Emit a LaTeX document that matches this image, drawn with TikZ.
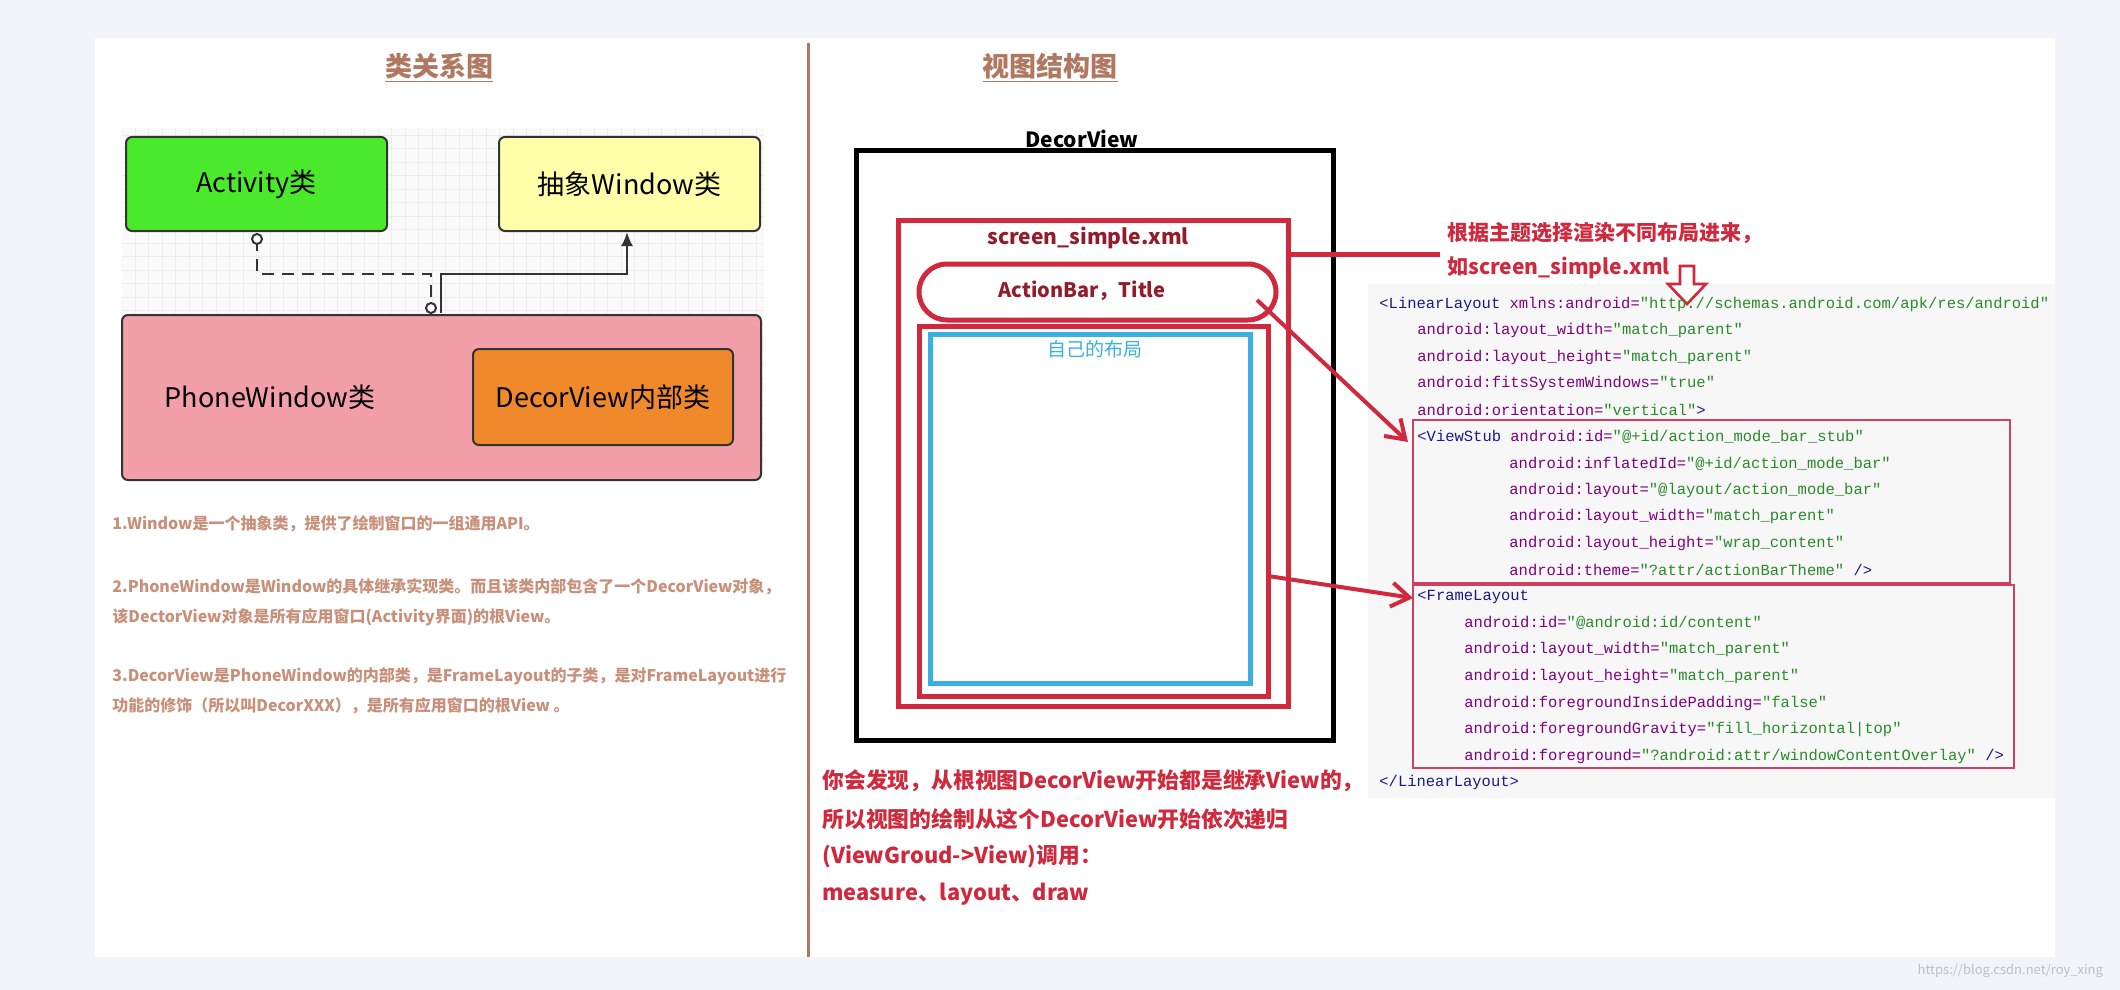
\documentclass[tikz,border=0pt]{standalone}
\usepackage{fontspec}
\setmainfont{Noto Sans CJK SC}
\setmonofont{Liberation Mono}
\usetikzlibrary{arrows.meta}
\definecolor{pagebg}{HTML}{F2F4FA}
\definecolor{brn}{HTML}{B07860}
\definecolor{ltxt}{HTML}{C8907A}
\definecolor{rd}{HTML}{D0283C}
\definecolor{cyanb}{HTML}{3AB0E0}
\definecolor{attr}{HTML}{800080}
\definecolor{val}{HTML}{2A8A2A}
\definecolor{tagc}{HTML}{1A1A8A}
\definecolor{codebox}{HTML}{D04060}
\newcommand\KA[2]{\textcolor{attr}{#1=}\textcolor{val}{"#2"}}
\newcommand\KT[1]{\textcolor{tagc}{#1}}
\begin{document}
\begin{tikzpicture}[x=0.5pt,y=-0.5pt,
  cls/.style={draw=black!80,line width=1pt,rounded corners=3pt,font=\fontsize{13.5}{16}\selectfont},
  ltext/.style={anchor=west,text=ltxt,font=\bfseries\fontsize{8}{10}\selectfont,inner sep=0},
  code/.style={anchor=west,inner sep=0,font=\ttfamily\fontsize{7.75}{9}\selectfont},
  rbox/.style={draw=rd,line width=2.5pt},
  rarrow/.style={draw=rd,line width=2pt,-{Straight Barb[length=9pt,width=12pt]}},
  rtext/.style={anchor=west,inner sep=0,text=rd,font=\bfseries\fontsize{10.9}{13}\selectfont}]
\useasboundingbox (0,0) rectangle (2120,990);
\fill[pagebg] (0,0) rectangle (2120,990);
\fill[white] (95,38) rectangle (2055,957);
\draw[brn,line width=1.5pt] (808,43) -- (808,957);
\node[text=brn,font=\bfseries\fontsize{13.5}{16}\selectfont] (t1) at (439,68) {\underline{类关系图}};
\node[text=brn,font=\bfseries\fontsize{13.5}{16}\selectfont] (t2) at (1050,68) {\underline{视图结构图}};
% grid
\fill[black!2] (122,128) rectangle (764,480);
\draw[black!7,line width=0.3pt,step=6.75pt] (122,128) grid (764,480);
% class boxes
\node[cls,fill={rgb,255:red,75;green,233;blue,43},minimum width=130.5pt,minimum height=47pt] (act) at (256.5,184) {Activity类};
\node[cls,fill={rgb,255:red,255;green,255;blue,170},minimum width=130.5pt,minimum height=47pt] (win) at (629.5,184) {抽象Window类};
\node[cls,fill={rgb,255:red,242;green,159;blue,169},minimum width=319.5pt,minimum height=82.5pt] (pw) at (441.5,397.5) {};
\node[font=\fontsize{13.5}{16}\selectfont] (pwt) at (270,397) {PhoneWindow类};
\node[cls,fill={rgb,255:red,240;green,137;blue,43},minimum width=130pt,minimum height=48pt] (dv) at (603,397) {DecorView内部类};
\coordinate (c1) at (257,239);
\coordinate (c2) at (431,308);
\draw[black!80,line width=1.2pt,dash pattern=on 6pt off 4pt] (c1) -- (257,274) -- (431,274) -- (c2);
\draw[black!80,line width=1pt,fill=white] (c1) circle (2.5pt);
\draw[black!80,line width=1pt,fill=white] (c2) circle (2.5pt);
\draw[black!80,line width=1.2pt,-{Latex[length=7pt,width=6pt]}] (441,313) -- (441,274) -- (627,274) -- (win.south -| 627,231);
% left text
\node[ltext] (p1) at (112,524) {1.Window是一个抽象类，提供了绘制窗口的一组通用API。};
\node[ltext] (p2) at (112,587) {2.PhoneWindow是Window的具体继承实现类。而且该类内部包含了一个DecorView对象，};
\node[ltext] (p3) at (112,617) {该DectorView对象是所有应用窗口(Activity界面)的根View。};
\node[ltext] (p4) at (112,676) {3.DecorView是PhoneWindow的内部类，是FrameLayout的子类，是对FrameLayout进行};
\node[ltext] (p5) at (112,706) {功能的修饰（所以叫DecorXXX），是所有应用窗口的根View 。};
% right: view structure
\node[font=\bfseries\fontsize{10.5}{12}\selectfont] (dvl) at (1082,139) {DecorView};
\draw[black,line width=2.5pt] (856,151) rectangle (1333,740);
\draw[rbox] (898,220) rectangle (1288,706);
\node[text=rd!70!black,font=\bfseries\fontsize{10.5}{12}\selectfont] (ssx) at (1088,238) {screen\_simple.xml};
\draw[rbox,rounded corners=14pt] (919,264) rectangle (1276,320);
\node[text=rd!70!black,font=\bfseries\fontsize{10}{12}\selectfont] (ab) at (1082,291) {ActionBar，Title};
\draw[rbox] (919,326) rectangle (1268,696);
\draw[cyanb,line width=2.5pt] (930,334) rectangle (1250,683);
\node[text=cyanb,font=\fontsize{9.5}{11}\selectfont] (own) at (1095,349) {自己的布局};
\coordinate (lnA) at (1288,254);
\coordinate (lnB) at (1440,254);
\draw[rd,line width=2.5pt] (lnA) -- (lnB);
\node[rtext,font=\bfseries\fontsize{10.5}{12}\selectfont] (r1) at (1447,233) {根据主题选择渲染不同布局进来，};
\node[rtext,font=\bfseries\fontsize{10.5}{12}\selectfont] (r2) at (1447,268) {如screen\_simple.xml};
% code
\fill[black!3] (1368,284) rectangle (2055,798);
\draw[rd,line width=1.3pt,fill=white,line join=miter] (1680,266) -- (1694,266) -- (1694,284) -- (1706,284) -- (1687,304) -- (1668,284) -- (1680,284) -- cycle;
\draw[codebox,line width=0.8pt] (1413,420) rectangle (2010,583);
\draw[codebox,line width=0.8pt] (1413,585) rectangle (2014,768);
\node[code] (l0) at (1379,304) {\KT{<LinearLayout} \KA{xmlns:android}{http://schemas.android.com/apk/res/android}};
\node[code] (l1) at (1417,330.6) {\KA{android:layout\_width}{match\_parent}};
\node[code] (l2) at (1417,357.2) {\KA{android:layout\_height}{match\_parent}};
\node[code] (l3) at (1417,383.8) {\KA{android:fitsSystemWindows}{true}};
\node[code] (l4) at (1417,410.4) {\KA{android:orientation}{vertical}\KT{>}};
\node[code] (l5) at (1417,437) {\KT{<ViewStub} \KA{android:id}{@+id/action\_mode\_bar\_stub}};
\node[code] (l6) at (1509,463.6) {\KA{android:inflatedId}{@+id/action\_mode\_bar}};
\node[code] (l7) at (1509,490.2) {\KA{android:layout}{@layout/action\_mode\_bar}};
\node[code] (l8) at (1509,516.8) {\KA{android:layout\_width}{match\_parent}};
\node[code] (l9) at (1509,543.4) {\KA{android:layout\_height}{wrap\_content}};
\node[code] (l10) at (1509,570) {\KA{android:theme}{?attr/actionBarTheme} \KT{/>}};
\node[code] (l11) at (1417,596.6) {\KT{<FrameLayout}};
\node[code] (l12) at (1464,623.2) {\KA{android:id}{@android:id/content}};
\node[code] (l13) at (1464,649.8) {\KA{android:layout\_width}{match\_parent}};
\node[code] (l14) at (1464,676.4) {\KA{android:layout\_height}{match\_parent}};
\node[code] (l15) at (1464,703) {\KA{android:foregroundInsidePadding}{false}};
\node[code] (l16) at (1464,729.6) {\KA{android:foregroundGravity}{fill\_horizontal|top}};
\node[code] (l17) at (1464,756.2) {\KA{android:foreground}{?android:attr/windowContentOverlay} \KT{/>}};
\node[code] (l18) at (1379,782.8) {\KT{</LinearLayout>}};
% red arrows
\coordinate (a1s) at (1257,300);
\coordinate (a1e) at (1408,442);
\coordinate (a2s) at (1268,576);
\coordinate (a2e) at (1413,598);
\draw[rarrow] (a1s) -- (a1e);
\draw[rarrow] (a2s) -- (a2e);
% bottom text
\node[rtext] (b1) at (822,781) {你会发现，从根视图DecorView开始都是继承View的，};
\node[rtext] (b2) at (822,819) {所以视图的绘制从这个DecorView开始依次递归};
\node[rtext] (b3) at (822,857) {(ViewGroud->View)调用：};
\node[rtext] (b4) at (822,894) {measure、layout、draw};
\node[anchor=east,text=black!25,font=\fontsize{6.5}{8}\selectfont] (wm) at (2110,971) {https://blog.csdn.net/roy\_xing};
\end{tikzpicture}
\end{document}
